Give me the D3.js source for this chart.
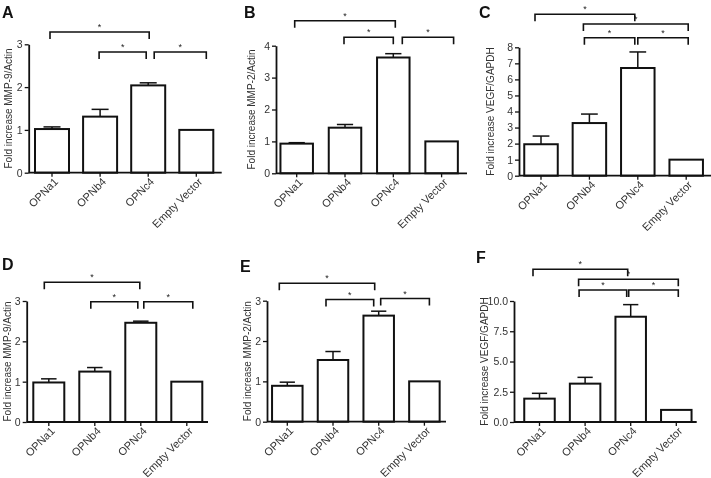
<!DOCTYPE html>
<html>
<head>
<meta charset="utf-8">
<script src="https://cdn.jsdelivr.net/npm/d3@7"></script>
<style>
  body { margin: 0; background: #fff; }
  svg { display: block; font-family: "Liberation Sans", Arial, sans-serif; filter: grayscale(1); }
</style>
</head>
<body>
<div id="chart"></div>
<script>
// data
const categories = ["OPNa1", "OPNb4", "OPNc4", "Empty Vector"];

const meansA = [1.02, 1.31, 2.04, 1.0];
const semA   = [0.05, 0.17, 0.06, 0];
const meansB = [0.93, 1.43, 3.63, 1.0];
const semB   = [0.03, 0.10, 0.12, 0];
const meansC = [1.96, 3.28, 6.71, 1.0];
const semC   = [0.51, 0.56, 1.00, 0];
const meansD = [0.98, 1.25, 2.46, 1.0];
const semD   = [0.09, 0.10, 0.04, 0];
const meansE = [0.89, 1.53, 2.63, 1.0];
const semE   = [0.09, 0.21, 0.11, 0];
const meansF = [1.93, 3.17, 8.70, 1.0];
const semF   = [0.44, 0.52, 1.00, 0];

const ticksMMP9 = [0, 1, 2, 3];
const ticksMMP2 = [0, 1, 2, 3, 4];
const ticksVEGF = [0, 1, 2, 3, 4, 5, 6, 7, 8];
const ticksVEGF2 = [0, 2.5, 5, 7.5, 10];

// significance brackets: [from, to] category index
const sig3 = [[0, 2], [1, 2], [2, 3]];
const sig4 = [[0, 2], [1, 3], [1, 2], [2, 3]];

const panels = [
  { id: "A", means: meansA, sem: semA, ticks: ticksMMP9, fmt: d3.format("d"), ylab: "Fold increase MMP-9/Actin", sig: sig3,
    x0: 28.7, xEnd: 221.7, c0: 52, step: 48.1, bw: 34, yBase: 172.7, yTop: 44.3, labX: 8, lx: 2, ly: 18,
    br: [{y: 32, dl: -2, dr: 1}, {y: 52, dl: -1, dr: -2}, {y: 52, dl: 6, dr: 10}] },
  { id: "B", means: meansB, sem: semB, ticks: ticksMMP2, fmt: d3.format("d"), ylab: "Fold increase MMP-2/Actin", sig: sig3,
    x0: 276, xEnd: 467, c0: 296.7, step: 48.3, bw: 32.5, yBase: 173.3, yTop: 45.7, labX: 251, lx: 244, ly: 18,
    br: [{y: 20.7, dl: -2, dr: 2}, {y: 37.3, dl: -1, dr: 0}, {y: 37.3, dl: 9, dr: 12}] },
  { id: "C", means: meansC, sem: semC, ticks: ticksVEGF, fmt: d3.format("d"), ylab: "Fold increase VEGF/GAPDH", sig: sig4,
    x0: 519, xEnd: 711, c0: 541, step: 48.4, bw: 33.5, yBase: 175.7, yTop: 47.3, labX: 490, lx: 479, ly: 18,
    br: [{y: 14.3, dl: -6, dr: -3}, {y: 24, dl: -6, dr: 2}, {y: 37.7, dl: -5, dr: -3}, {y: 37.7, dl: 0, dr: 2}] },
  { id: "D", means: meansD, sem: semD, ticks: ticksMMP9, fmt: d3.format("d"), ylab: "Fold increase MMP-9/Actin", sig: sig3,
    x0: 26.7, xEnd: 208, c0: 48.8, step: 46, bw: 31, yBase: 422, yTop: 301, labX: 7.3, lx: 2, ly: 270,
    br: [{y: 282.3, dl: -4.5, dr: -1}, {y: 301.7, dl: -4, dr: -3}, {y: 301.7, dl: 3, dr: 6}] },
  { id: "E", means: meansE, sem: semE, ticks: ticksMMP9, fmt: d3.format("d"), ylab: "Fold increase MMP-2/Actin", sig: sig3,
    x0: 267, xEnd: 446, c0: 287.3, step: 45.7, bw: 30.5, yBase: 421.7, yTop: 300.7, labX: 247, lx: 240, ly: 272,
    br: [{y: 283.3, dl: -8, dr: -4}, {y: 299.5, dl: -7, dr: -5}, {y: 298.5, dl: 2, dr: 5}] },
  { id: "F", means: meansF, sem: semF, ticks: ticksVEGF2, fmt: d3.format(".1f"), ylab: "Fold increase VEGF/GAPDH", sig: sig4,
    x0: 514, xEnd: 696.7, c0: 539.5, step: 45.6, bw: 30.5, yBase: 422, yTop: 301, labX: 484.5, lx: 476, ly: 263,
    br: [{y: 269.3, dl: -6.5, dr: -3}, {y: 279.3, dl: -6.5, dr: 2}, {y: 290, dl: -6, dr: -4}, {y: 290, dl: -2, dr: 2}] }
];

const width = 711;
const height = 478;

const svg = d3.select("#chart")
  .append("svg")
  .attr("width", width)
  .attr("height", height);

panels.forEach(p => {
  const g = svg.append("g");
  const pad = 1 - p.bw / p.step;

  const x = d3.scaleBand()
    .domain(categories)
    .range([p.c0 - p.step / 2, p.c0 + p.step * 3.5])
    .paddingInner(pad)
    .paddingOuter(pad / 2);

  const y = d3.scaleLinear()
    .domain([0, d3.max(p.ticks)])
    .range([p.yBase, p.yTop]);

  const rows = categories.map((c, i) => ({ cat: c, mean: p.means[i], sem: p.sem[i] }));

  // error bars (upper only)
  const err = g.selectAll(".err")
    .data(rows.filter(d => d.sem > 0))
    .enter().append("g");
  err.append("line")
    .attr("x1", d => x(d.cat) + x.bandwidth() / 2)
    .attr("x2", d => x(d.cat) + x.bandwidth() / 2)
    .attr("y1", d => y(d.mean))
    .attr("y2", d => y(d.mean + d.sem))
    .attr("stroke", "#111").attr("stroke-width", 1.5);
  err.append("line")
    .attr("x1", d => x(d.cat) + x.bandwidth() * 0.25)
    .attr("x2", d => x(d.cat) + x.bandwidth() * 0.75)
    .attr("y1", d => y(d.mean + d.sem))
    .attr("y2", d => y(d.mean + d.sem))
    .attr("stroke", "#111").attr("stroke-width", 1.5);

  // bars
  g.selectAll(".bar")
    .data(rows)
    .enter().append("rect")
    .attr("x", d => x(d.cat))
    .attr("y", d => y(d.mean))
    .attr("width", x.bandwidth())
    .attr("height", d => y(0) - y(d.mean))
    .attr("fill", "#fff")
    .attr("stroke", "#111")
    .attr("stroke-width", 2);

  // y axis
  const yAxis = g.append("g")
    .attr("transform", `translate(${p.x0},0)`)
    .call(d3.axisLeft(y).tickValues(p.ticks).tickFormat(p.fmt).tickSize(4).tickSizeOuter(0).tickPadding(2));
  yAxis.select(".domain").attr("stroke", "#111").attr("stroke-width", 1.8);
  yAxis.selectAll(".tick line").attr("stroke", "#111").attr("stroke-width", 1.3);
  yAxis.selectAll("text")
    .attr("fill", "#333")
    .style("font-size", "10.5px")
    .style("font-family", "'Liberation Sans', Arial, sans-serif");

  // x axis
  const xAxis = g.append("g")
    .attr("transform", `translate(0,${p.yBase})`)
    .call(d3.axisBottom(x).tickSize(4).tickSizeOuter(0));
  xAxis.select(".domain").remove();
  xAxis.append("line")
    .attr("x1", p.x0).attr("x2", p.xEnd)
    .attr("stroke", "#111").attr("stroke-width", 1.8);
  xAxis.selectAll(".tick line").attr("stroke", "#111").attr("stroke-width", 1.3);
  xAxis.selectAll("text")
    .attr("fill", "#333")
    .style("font-size", "11px")
    .style("font-family", "'Liberation Sans', Arial, sans-serif")
    .attr("text-anchor", "end")
    .attr("y", 0)
    .attr("dy", "0.35em")
    .attr("transform", "translate(4,7) rotate(-45)");

  // y label
  g.append("text")
    .attr("transform", `translate(${p.labX},${(p.yBase + p.yTop) / 2}) rotate(-90)`)
    .attr("text-anchor", "middle")
    .attr("dy", "0.35em")
    .attr("fill", "#333")
    .style("font-size", "10px")
    .text(p.ylab);

  // panel letter
  g.append("text")
    .attr("x", p.lx).attr("y", p.ly)
    .style("font-size", "16px")
    .style("font-weight", "bold")
    .attr("fill", "#111")
    .text(p.id);

  // significance brackets
  const cx = i => x(categories[i]) + x.bandwidth() / 2;
  p.sig.forEach((s, k) => {
    const b = p.br[k];
    const xl = cx(s[0]) + b.dl;
    const xr = cx(s[1]) + b.dr;
    g.append("path")
      .attr("d", `M${xl},${b.y + 7}V${b.y}H${xr}V${b.y + 7}`)
      .attr("fill", "none")
      .attr("stroke", "#111")
      .attr("stroke-width", 1.6);
    g.append("text")
      .attr("x", (xl + xr) / 2)
      .attr("y", b.y - 2)
      .attr("text-anchor", "middle")
      .style("font-size", "9px")
      .attr("fill", "#222")
      .text("*");
  });
});
</script>
</body>
</html>
